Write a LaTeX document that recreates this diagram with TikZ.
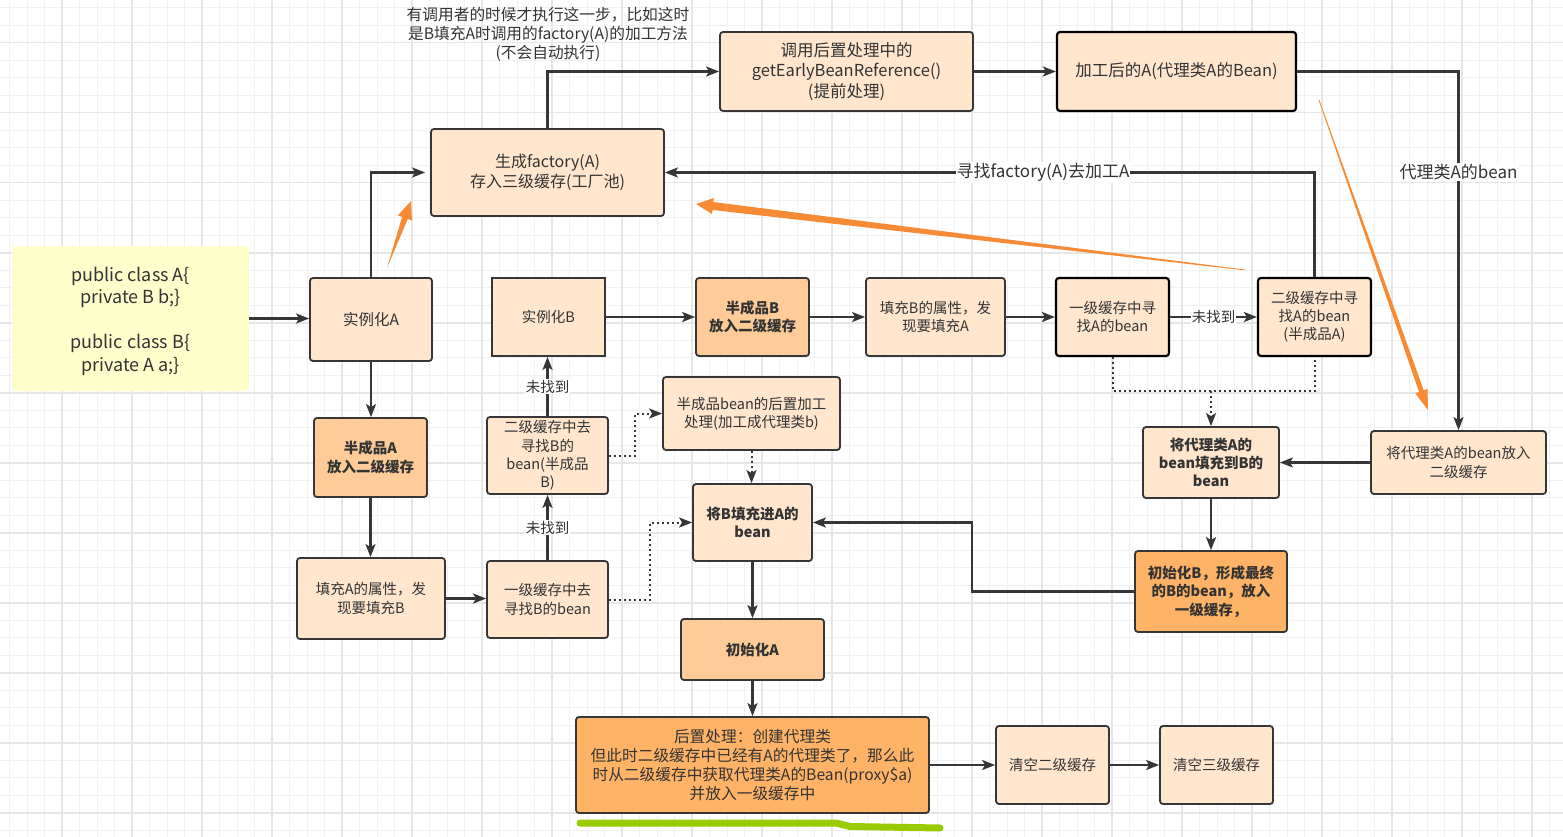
\documentclass[tikz,border=0pt]{standalone}
\usepackage{fontspec}
\setmainfont{Noto Sans CJK SC}
\usetikzlibrary{arrows.meta,calc}
\definecolor{peach}{RGB}{255,230,204}
\definecolor{peachmd}{RGB}{255,204,153}
\definecolor{orangebox}{RGB}{255,179,102}
\definecolor{codebg}{RGB}{255,255,204}
\definecolor{txt}{RGB}{51,51,51}
\definecolor{edgec}{RGB}{54,54,54}
\definecolor{gminc}{RGB}{241,241,241}
\definecolor{gmajc}{RGB}{230,230,230}
\definecolor{orangea}{RGB}{247,138,52}
\definecolor{greenhl}{RGB}{153,204,0}
\newcommand{\fsA}{\fontsize{14.5}{18.3}\selectfont}
\newcommand{\fsB}{\fontsize{16}{19.5}\selectfont}
\newcommand{\fsC}{\fontsize{16.5}{20.5}\selectfont}
\newcommand{\fsP}{\fontsize{15.7}{19}\selectfont}
\newcommand{\fsL}{\fontsize{17}{20}\selectfont}
\newcommand{\taper}[6]{%
  \coordinate (tb) at ($(#2)!#6!(#1)$);
  \fill[orangea] ($(#1)!#3!90:(#2)$) -- ($(tb)!#4!90:(#2)$) -- ($(tb)!#5!90:(#2)$) -- (#2)
    -- ($(tb)!#5!-90:(#2)$) -- ($(tb)!#4!-90:(#2)$) -- ($(#1)!#3!-90:(#2)$) -- cycle;}
\tikzset{
  sz/.style 2 args={minimum width=#1pt, minimum height=#2pt},
  base/.style={rounded corners=3pt, line width=1.8pt, draw=edgec, align=center,
    inner sep=1pt, text=txt, font=\fsA},
  lt/.style={base, fill=peach},
  md/.style={base, fill=peachmd, font=\bfseries\fsA},
  org/.style={base, fill=orangebox},
  blk/.style={draw=black, line width=2.2pt},
  conn/.style={draw=edgec, line width=2.2pt, -{Stealth[length=13pt,width=10pt,inset=3pt]}},
  dotc/.style={conn, line width=2pt, dash pattern=on 2pt off 3pt},
  elabel/.style={fill=white, inner sep=1pt, font=\fsA, text=txt},
  gmin/.style={draw=gminc, line width=1pt},
  gmaj/.style={draw=gmajc, line width=1.6pt}
}
\begin{document}
\begin{tikzpicture}[x=1pt,y=-1pt]
\useasboundingbox (0,0) rectangle (1563,837);
\fill[white] (0,0) rectangle (1563,837);
\foreach \xx in {9.5,27,...,1563} \draw[gmin] (\xx,0) -- (\xx,837);
\foreach \yy in {7.7,25.2,...,837} \draw[gmin] (0,\yy) -- (1563,\yy);
\foreach \xx in {62,132,...,1563} \draw[gmaj] (\xx,0) -- (\xx,837);
\foreach \yy in {42.7,112.7,...,837} \draw[gmaj] (0,\yy) -- (1563,\yy);

% nodes
\node[fill=codebg, rounded corners=4pt, sz={237}{145}, align=center, text=txt,
  font=\fontsize{18}{22.5}\selectfont] (code) at (130.5,318.5) {};
\node[align=center, text=txt, font=\fontsize{18}{22.5}\selectfont] (codetxt) at (130.5,321)
  {public class A\{\\private B b;\}\\[22.5pt]public class B\{\\private A a;\}};
\node[lt, sz={122}{83}, font=\fontsize{15.5}{19}\selectfont] (iA) at (371,319.5) {实例化A};
\node[lt, sz={233}{87}, font=\fsB] (fac) at (547.5,172.5) {生成factory(A)\\存入三级缓存(工厂池)};
\node[lt, sz={253}{79}, font=\fsC] (gebr) at (846.5,71.5) {调用后置处理中的\\getEarlyBeanReference()\\(提前处理)};
\node[lt, blk, sz={239}{79}, font=\fsC] (procA) at (1176.5,71.5) {加工后的A(代理类A的Bean)};
\node[lt, sharp corners, sz={113}{78}] (iB) at (548.5,317) {实例化B};
\node[md, sz={113}{78}] (halfB) at (752.5,317) {半成品B\\放入二级缓存};
\node[lt, sz={139}{78}] (fillB) at (935.5,317) {填充B的属性，发\\现要填充A};
\node[lt, blk, sz={113}{78}] (l1A) at (1112.5,317) {一级缓存中寻\\找A的bean};
\node[lt, blk, sz={113}{78}] (l2A) at (1314.5,317) {二级缓存中寻\\找A的bean\\(半成品A)};
\node[md, sz={113}{79}] (halfA) at (370.5,457.5) {半成品A\\放入二级缓存};
\node[lt, sz={121}{77}] (l2B) at (547.5,455.5) {二级缓存中去\\寻找B的\\bean(半成品\\B)};
\node[lt, sz={177}{73}] (postB) at (751.5,413.5) {半成品bean的后置加工\\处理(加工成代理类b)};
\node[lt, sz={119}{77}, font=\bfseries\fsA] (fillBA) at (752.5,522.5) {将B填充进A的\\bean};
\node[lt, sz={136}{71}, font=\bfseries\fsA] (proxyToB) at (1211,462.5) {将代理类A的\\bean填充到B的\\bean};
\node[lt, sz={175}{63}] (proxyL2) at (1458.5,462.5) {将代理类A的bean放入\\二级缓存};
\node[lt, sz={148}{81}] (fillA) at (371,598.5) {填充A的属性，发\\现要填充B};
\node[lt, sz={121}{77}] (l1B) at (547.5,599.5) {一级缓存中去\\寻找B的bean};
\node[md, sz={143}{61}] (initA) at (752.5,649.5) {初始化A};
\node[org, sz={152}{81}, font=\bfseries\fsA] (initB) at (1211,591.5) {初始化B，形成最终\\的B的bean，放入\\一级缓存，};
\node[org, sz={353}{96}, font=\fsP] (post) at (752.5,765) {后置处理：创建代理类\\但此时二级缓存中已经有A的代理类了，那么此\\时从二级缓存中获取代理类A的Bean(proxy\$a)\\并放入一级缓存中};
\node[lt, sz={113}{78}] (clr2) at (1052.5,765) {清空二级缓存};
\node[lt, sz={113}{78}] (clr3) at (1216.5,765) {清空三级缓存};
\node[align=center, text=txt, font=\fsP, inner sep=0pt] (note) at (548,34)
  {有调用者的时候才执行这一步，比如这时\\是B填充A时调用的factory(A)的加工方法\\(不会自动执行)};

% connectors
\draw[conn] (code.east) -- (iA.west |- code.east);
\draw[conn, shorten >=5pt] (iA.north) |- (fac.west);
\draw[conn] (fac.north) |- (gebr.west);
\draw[conn] (gebr.east) -- (procA.west);
\draw[conn] (procA.east) -| node[elabel, font=\fsL, pos=0.64] {代理类A的bean} (proxyL2.north);
\draw[conn] (l2A.north) |- node[elabel, font=\fsL, pos=0.709] {寻找factory(A)去加工A} (fac.east);
\draw[conn] (iA.south) -- (iA.south |- halfA.north);
\draw[conn] (halfA.south) -- (halfA.south |- fillA.north);
\draw[conn] (fillA.east) -- (l1B.west |- fillA.east);
\draw[conn] (l1B.north) -- node[elabel] {未找到} (l2B.south);
\draw[conn] (l2B.north) -- node[elabel] {未找到} (l2B.north |- iB.south);
\draw[dotc] (l2B.east) -- ++(26,0) |- (postB.west);
\draw[dotc] (l1B.east) -- ++(41,0) |- (fillBA.west);
\draw[dotc] (postB.south) -- (postB.south |- fillBA.north);
\draw[conn] (iB.east) -- (halfB.west);
\draw[conn] (halfB.east) -- (fillB.west);
\draw[conn] (fillB.east) -- (l1A.west);
\draw[conn] (l1A.east) -- node[elabel] {未找到} (l2A.west);
\coordinate (dj) at (1211,391);
\draw[dotc, -] (l1A.south) |- (l2A.south |- dj) -- (l2A.south);
\draw[dotc] (dj) -- (proxyToB.north);
\draw[conn] (proxyL2.west) -- (proxyToB.east);
\draw[conn] (proxyToB.south) -- (initB.north);
\draw[conn] (initB.west) -- ++(-162,0) |- (fillBA.east);
\draw[conn] (fillBA.south) -- (initA.north);
\draw[conn] (initA.south) -- (post.north);
\draw[conn] (post.east) -- (clr2.west);
\draw[conn] (clr2.east) -- (clr3.west);

% orange tapered arrows
\coordinate (oat) at (387,268);
\coordinate (oap) at (411,201);
\taper{oat}{oap}{0pt}{3pt}{7.5pt}{18pt}
\coordinate (obt) at (1245,270);
\coordinate (obp) at (696,204);
\taper{obt}{obp}{0.4pt}{4pt}{8pt}{17pt}
\coordinate (oct) at (1319,100);
\coordinate (ocp) at (1428,410);
\taper{oct}{ocp}{0.4pt}{2.5pt}{6.5pt}{20pt}

% green highlight
\draw[greenhl, line width=7pt, line cap=round, line join=round]
  (580,823) -- (836,823) -- (850,826.5) -- (940,828);
\end{tikzpicture}
\end{document}
